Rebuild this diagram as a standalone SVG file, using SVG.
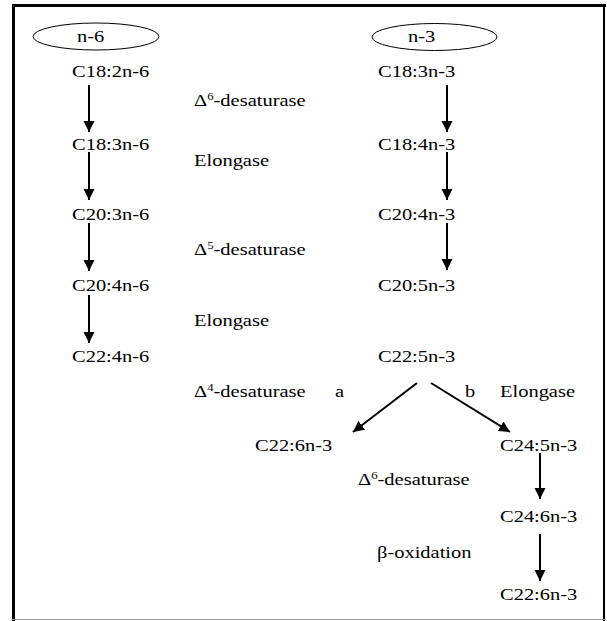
<svg xmlns="http://www.w3.org/2000/svg" width="607" height="621" viewBox="0 0 607 621">
<style>
text{font-family:"Liberation Serif",serif;font-size:16px;fill:#000}
.sup{font-size:10px}
.arr{stroke:#000;stroke-width:2;fill:none;marker-end:url(#ah)}
.ell{fill:#fff;stroke:#000;stroke-width:1}
</style>
<defs>
<marker id="ah" markerUnits="userSpaceOnUse" markerWidth="12" markerHeight="12" refX="11" refY="6" orient="auto">
<path d="M0,0.5 L11,6 L0,11.5 z" fill="#000"/>
</marker>
</defs>
<rect x="0" y="0" width="607" height="621" fill="#fff"/>
<g id="frame">
<rect x="12" y="4" width="3" height="617" fill="#000"/>
<rect x="12" y="4" width="594" height="3" fill="#000"/>
<rect x="603" y="4" width="2" height="617" fill="#000"/>
<rect x="12" y="619" width="594" height="1" fill="#999"/>
</g>
<g id="connectors">
<line class="arr" x1="89" y1="85" x2="89" y2="132"/>
<line class="arr" x1="89" y1="152" x2="89" y2="200"/>
<line class="arr" x1="89" y1="223" x2="89" y2="271"/>
<line class="arr" x1="89" y1="295" x2="89" y2="343"/>
<line class="arr" x1="447" y1="85" x2="447" y2="132"/>
<line class="arr" x1="447" y1="152" x2="447" y2="200"/>
<line class="arr" x1="447" y1="223" x2="447" y2="270"/>
<line class="arr" x1="417" y1="383" x2="353" y2="432"/>
<line class="arr" x1="431" y1="383" x2="510" y2="432"/>
<line class="arr" x1="540" y1="453" x2="540" y2="499"/>
<line class="arr" x1="540" y1="534" x2="540" y2="581"/>
</g>
<g id="n6">
<ellipse class="ell" cx="96" cy="36.5" rx="63" ry="13.5"/>
<text transform="translate(77,42) scale(1.28,1)">n-6</text>
</g>
<g id="n3">
<ellipse class="ell" cx="434.5" cy="37" rx="62.5" ry="13.5"/>
<text transform="translate(408,42) scale(1.28,1)">n-3</text>
</g>
<g id="C18_2n6"><text transform="translate(72,77) scale(1.28,1)">C18:2n-6</text></g>
<g id="C18_3n6"><text transform="translate(72,150) scale(1.28,1)">C18:3n-6</text></g>
<g id="C20_3n6"><text transform="translate(72,220) scale(1.28,1)">C20:3n-6</text></g>
<g id="C20_4n6"><text transform="translate(72,291) scale(1.28,1)">C20:4n-6</text></g>
<g id="C22_4n6"><text transform="translate(72,362) scale(1.28,1)">C22:4n-6</text></g>
<g id="C18_3n3"><text transform="translate(378,77) scale(1.28,1)">C18:3n-3</text></g>
<g id="C18_4n3"><text transform="translate(378,150) scale(1.28,1)">C18:4n-3</text></g>
<g id="C20_4n3"><text transform="translate(378,220) scale(1.28,1)">C20:4n-3</text></g>
<g id="C20_5n3"><text transform="translate(378,291) scale(1.28,1)">C20:5n-3</text></g>
<g id="C22_5n3"><text transform="translate(378,362) scale(1.28,1)">C22:5n-3</text></g>
<g id="C22_6n3a"><text transform="translate(255,451) scale(1.28,1)">C22:6n-3</text></g>
<g id="C24_5n3"><text transform="translate(500,451) scale(1.28,1)">C24:5n-3</text></g>
<g id="C24_6n3"><text transform="translate(500,522) scale(1.28,1)">C24:6n-3</text></g>
<g id="C22_6n3b"><text transform="translate(500,600) scale(1.28,1)">C22:6n-3</text></g>
<g id="labels">
<text transform="translate(194,106) scale(1.28,1)">Δ<tspan class="sup" dy="-6">6</tspan><tspan dy="6">-desaturase</tspan></text>
<text transform="translate(194,166) scale(1.28,1)">Elongase</text>
<text transform="translate(194,255) scale(1.28,1)">Δ<tspan class="sup" dy="-6">5</tspan><tspan dy="6">-desaturase</tspan></text>
<text transform="translate(194,326) scale(1.28,1)">Elongase</text>
<text transform="translate(194,397) scale(1.28,1)">Δ<tspan class="sup" dy="-6">4</tspan><tspan dy="6">-desaturase</tspan></text>
<text transform="translate(335,397) scale(1.28,1)">a</text>
<text transform="translate(465,397) scale(1.28,1)">b</text>
<text transform="translate(500,397) scale(1.28,1)">Elongase</text>
<text transform="translate(358,485) scale(1.28,1)">Δ<tspan class="sup" dy="-6">6</tspan><tspan dy="6">-desaturase</tspan></text>
<text transform="translate(377,558) scale(1.28,1)">β-oxidation</text>
</g>
</svg>
